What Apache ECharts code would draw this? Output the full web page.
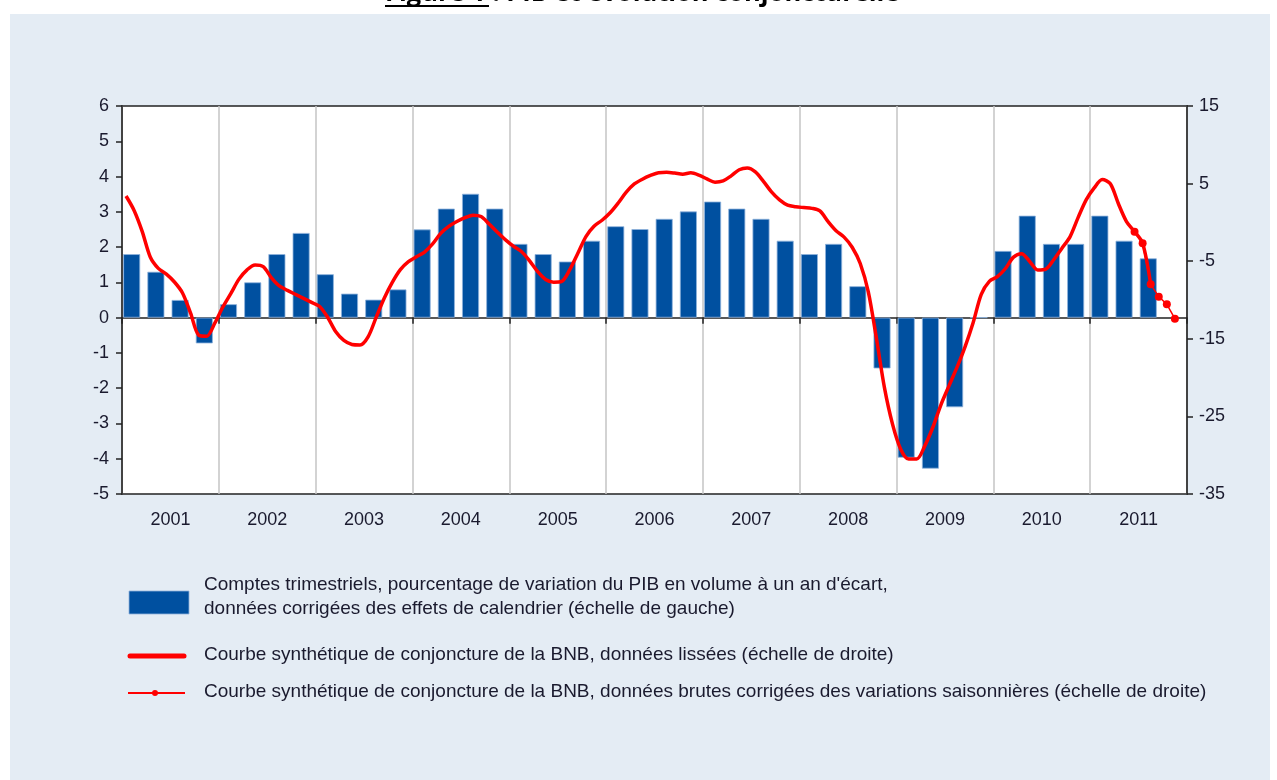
<!DOCTYPE html>
<html>
<head>
<meta charset="utf-8">
<title>PIB et évolution conjoncturelle</title>
<script src="https://cdn.jsdelivr.net/npm/echarts@6/dist/echarts.min.js"></script>
<style>
  html, body { margin: 0; padding: 0; background: #fff; }
  #chart { width: 1277px; height: 780px; }
</style>
</head>
<body>
<div id="chart"></div>
<script>
// years on the x axis
var years = ['2001','2002','2003','2004','2005','2006','2007','2008','2009','2010','2011'];

// GDP, y/y % change, quarterly from 2001Q1 to 2011Q3 (left scale)
var pibTrim = [
  1.8, 1.3, 0.5, -0.73,
  0.38, 1.0, 1.8, 2.4,
  1.23, 0.68, 0.51, 0.8,
  2.5, 3.09, 3.51, 3.09,
  2.09, 1.8, 1.59, 2.18,
  2.59, 2.51, 2.8, 3.01,
  3.29, 3.09, 2.8, 2.18,
  1.8, 2.09, 0.89, -1.44,
  -3.97, -4.28, -2.54, 0,
  1.89, 2.89, 2.09, 2.09,
  2.89, 2.18, 1.68
];

// BNB business barometer, smoothed, monthly from Jan 2001 (right scale)
var courbeLissee = [
  3.4, 1.54, -1.15, -4.45, -5.92, -6.67, -7.68, -9.09, -11.69, -14.52, -14.66, -12.99,
  -10.9, -9.14, -7.31, -6.11, -5.49, -5.7, -7.11, -8.19, -8.76, -9.28, -9.79, -10.31,
  -10.83, -12.25, -14.09, -15.21, -15.73, -15.8, -14.75, -12.24, -9.77, -7.73, -6.09, -5.05,
  -4.43, -3.82, -2.78, -1.42, -0.52, 0.11, 0.6, 0.93, 0.75, -0.22, -1.25, -2.22,
  -3.06, -3.75, -4.93, -6.32, -7.35, -7.71, -7.61, -6.1, -3.98, -1.82, -0.49, 0.28,
  1.24, 2.5, 3.9, 4.95, 5.57, 6.05, 6.41, 6.45, 6.36, 6.22, 6.39, 6.1,
  5.6, 5.19, 5.35, 6.0, 6.78, 7.0, 6.5, 5.29, 3.93, 2.9, 2.22, 2.02,
  1.91, 1.81, 1.48, 0.12, -1.07, -1.9, -3.2, -5.3, -8.96, -14.9, -21.3, -26.0,
  -29.2, -30.5, -30.5, -28.8, -26.4, -23.5, -21.06, -18.66, -16.0, -12.9, -9.27, -7.6,
  -7.0, -5.94, -4.47, -4.03, -5.03, -6.13, -6.02, -4.78, -3.32, -1.86, 0.61, 2.9,
  4.44, 5.52, 4.98, 2.4, 0.11, -1.2, -2.69, -7.98
];

// raw seasonally adjusted barometer, Jun to Nov 2011 (right scale)
var courbeBruteDebut = 125; // month index from Jan 2001
var courbeBrute = [-1.2, -2.69, -7.98, -9.57, -10.55, -12.41];

var txt = '#1a1a2e';
var fontAxis = '"Liberation Sans", Arial, sans-serif';
var fontLeg = '19px "Liberation Sans", Arial, sans-serif';

var chart = echarts.init(document.getElementById('chart'));

chart.setOption({
  animation: false,
  backgroundColor: '#ffffff',
  grid: {
    left: 122, right: 90, top: 106, bottom: 286,
    show: true,
    backgroundColor: '#ffffff',
    borderColor: '#222',
    borderWidth: 1.5
  },
  xAxis: [{
    type: 'value',
    min: 0, max: 132, interval: 12,
    axisLine: { onZero: true, lineStyle: { color: '#222', width: 1.5 } },
    axisTick: { show: true, length: 6, lineStyle: { color: '#222', width: 1.5 } },
    axisLabel: { show: false },
    splitLine: { show: true, lineStyle: { color: '#c4c4c4', width: 1.5 } }
  }, {
    type: 'category',
    data: years,
    position: 'bottom',
    boundaryGap: true,
    axisLine: { show: false, onZero: false },
    axisTick: { show: false },
    splitLine: { show: false },
    axisLabel: { fontSize: 18, color: txt, margin: 17, fontFamily: fontAxis }
  }],
  yAxis: [{
    type: 'value',
    position: 'left',
    min: -5, max: 6, interval: 1,
    axisLine: { show: true, onZero: false, lineStyle: { color: '#222', width: 1.5 } },
    axisTick: { show: true, length: 6, lineStyle: { color: '#222', width: 1.5 } },
    axisLabel: { fontSize: 18, color: txt, margin: 13, fontFamily: fontAxis },
    splitLine: { show: false }
  }, {
    type: 'value',
    position: 'right',
    min: -35, max: 15, interval: 10,
    axisLine: { show: true, onZero: false, lineStyle: { color: '#222', width: 1.5 } },
    axisTick: { show: true, length: 6, lineStyle: { color: '#222', width: 1.5 } },
    axisLabel: { fontSize: 18, color: txt, margin: 12, fontFamily: fontAxis },
    splitLine: { show: false }
  }],
  series: [{
    name: 'pib',
    type: 'bar',
    xAxisIndex: 0, yAxisIndex: 0,
    barWidth: 17,
    itemStyle: { color: '#0050a0', borderColor: '#8fb2dc', borderWidth: 0.8 },
    data: pibTrim.map(function (v, i) { return [i * 3 + 1.2, v]; })
  }, {
    name: 'lissee',
    type: 'line',
    xAxisIndex: 0, yAxisIndex: 1,
    showSymbol: false,
    smooth: 0.3,
    lineStyle: { color: '#ff0000', width: 3.5 },
    data: courbeLissee.map(function (v, i) { return [i + 0.5, v]; }),
    z: 3
  }, {
    name: 'brute',
    type: 'line',
    xAxisIndex: 0, yAxisIndex: 1,
    symbol: 'circle',
    symbolSize: 8,
    itemStyle: { color: '#ff0000' },
    lineStyle: { color: '#ff0000', width: 1.5 },
    data: courbeBrute.map(function (v, i) { return [courbeBruteDebut + i + 0.5, v]; }),
    z: 4
  }],
  graphic: [
    // light panel behind everything
    { type: 'rect', z: -10, silent: true,
      shape: { x: 10, y: 14, width: 1260, height: 770 },
      style: { fill: '#e4ecf4' } },
    // title, cut at the top of the picture
    { type: 'text', z: 10,
      style: { text: 'Figure 1 : PIB et évolution conjoncturelle', x: 385, y: 7,
        align: 'left', verticalAlign: 'bottom',
        font: 'bold 25.5px "Open Sans", "DejaVu Sans", sans-serif', fill: '#000' } },
    { type: 'line', z: 10,
      shape: { x1: 385, y1: 6, x2: 489, y2: 6 },
      style: { stroke: '#000', lineWidth: 2 } },
    // legend
    { type: 'rect', z: 10,
      shape: { x: 129, y: 591, width: 60, height: 23 },
      style: { fill: '#0050a0', stroke: '#8fb2dc', lineWidth: 0.8 } },
    { type: 'text', z: 10,
      style: { text: "Comptes trimestriels, pourcentage de variation du PIB en volume à un an d'écart,",
        x: 204, y: 585, verticalAlign: 'middle', font: fontLeg, fill: txt } },
    { type: 'text', z: 10,
      style: { text: 'données corrigées des effets de calendrier (échelle de gauche)',
        x: 204, y: 609, verticalAlign: 'middle', font: fontLeg, fill: txt } },
    { type: 'line', z: 10,
      shape: { x1: 130, y1: 656, x2: 184, y2: 656 },
      style: { stroke: '#ff0000', lineWidth: 5, lineCap: 'round' } },
    { type: 'text', z: 10,
      style: { text: 'Courbe synthétique de conjoncture de la BNB, données lissées (échelle de droite)',
        x: 204, y: 655, verticalAlign: 'middle', font: fontLeg, fill: txt } },
    { type: 'line', z: 10,
      shape: { x1: 128, y1: 693, x2: 185, y2: 693 },
      style: { stroke: '#ff0000', lineWidth: 2 } },
    { type: 'circle', z: 10,
      shape: { cx: 155, cy: 693, r: 3 },
      style: { fill: '#ff0000' } },
    { type: 'text', z: 10,
      style: { text: 'Courbe synthétique de conjoncture de la BNB, données brutes corrigées des variations saisonnières (échelle de droite)',
        x: 204, y: 692, verticalAlign: 'middle', font: fontLeg, fill: txt } }
  ]
});
</script>
</body>
</html>
